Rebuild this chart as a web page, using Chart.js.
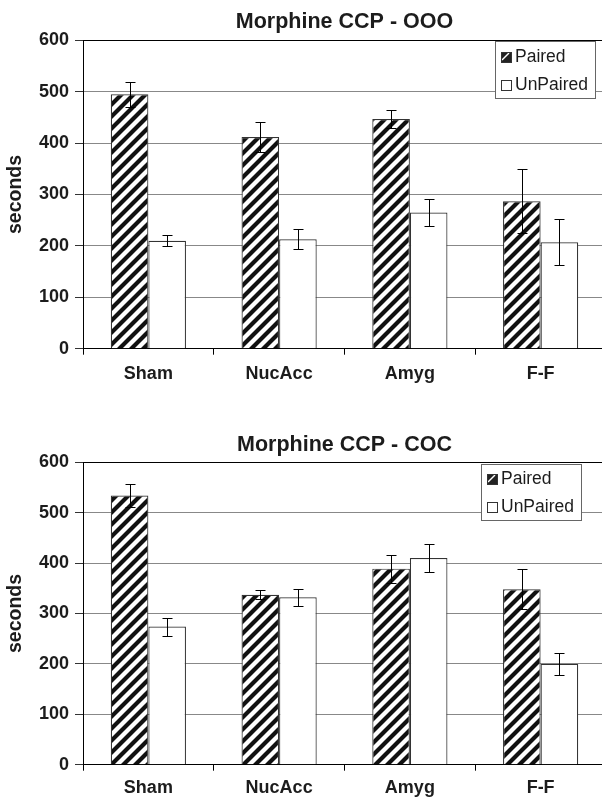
<!DOCTYPE html>
<html>
<head>
<meta charset="utf-8">
<script src="https://cdn.jsdelivr.net/npm/chart.js@4.4.1/dist/chart.umd.min.js"></script>
<style>
    html, body { margin: 0; padding: 0; background: #fff; overflow: hidden; }
    body { position: relative; width: 602px; height: 798px; }
    canvas { position: absolute; left: 0; }
    #chartOOO { top: 0; }
    #chartCOC { top: 420px; }
</style>
</head>
<body>
<canvas id="chartOOO" width="606" height="400"></canvas>
<canvas id="chartCOC" width="606" height="378"></canvas>
<script>
// --- DATA ---
const categories = ['Sham', 'NucAcc', 'Amyg', 'F-F'];
const seriesNames = ['Paired', 'UnPaired'];
const yTicks = [0, 100, 200, 300, 400, 500, 600];

const oooPaired = [495, 412, 447, 287];
const oooPairedErr = [24, 29, 18, 62];
const oooUnpaired = [210, 213, 265, 207];
const oooUnpairedErr = [11, 20, 26, 45];

const cocPaired = [534, 337, 389, 348];
const cocPairedErr = [22, 9, 28, 40];
const cocUnpaired = [274, 332, 410, 200];
const cocUnpairedErr = [18, 17, 28, 22];

const FONT = "'Liberation Sans', Arial, sans-serif";
const TEXT = '#1c1c1c';

// hatched fill for the Paired bars
function makeHatch() {
    const s = 12;
    const c = document.createElement('canvas');
    c.width = s; c.height = s;
    const g = c.getContext('2d');
    g.fillStyle = '#fff';
    g.fillRect(0, 0, s, s);
    g.strokeStyle = '#111';
    g.lineWidth = 4.2;
    g.beginPath();
    g.moveTo(-s / 2, s / 2); g.lineTo(s / 2, -s / 2);
    g.moveTo(0, s); g.lineTo(s, 0);
    g.moveTo(s / 2, s * 1.5); g.lineTo(s * 1.5, s / 2);
    g.stroke();
    return g.createPattern(c, 'repeat');
}
const hatch = makeHatch();

// error bars drawn from the errors stored on each dataset
const errorBars = {
    id: 'errorBars',
    afterDatasetsDraw(chart) {
        const ctx = chart.ctx;
        const y = chart.scales.y;
        ctx.save();
        ctx.strokeStyle = '#000';
        ctx.lineWidth = 1;
        chart.data.datasets.forEach((ds, i) => {
            const meta = chart.getDatasetMeta(i);
            meta.data.forEach((bar, j) => {
                const v = ds.data[j], e = ds.errors[j];
                const top = Math.round(y.getPixelForValue(v + e)) + 0.5;
                const bot = Math.round(y.getPixelForValue(v - e)) + 0.5;
                const x = Math.round(bar.x) + 0.5;
                ctx.beginPath();
                ctx.moveTo(x, top); ctx.lineTo(x, bot);
                ctx.moveTo(x - 5, top); ctx.lineTo(x + 5, top);
                ctx.moveTo(x - 5, bot); ctx.lineTo(x + 5, bot);
                ctx.stroke();
            });
        });
        ctx.restore();
    }
};

// boxed legend sitting inside the plot
const boxLegend = {
    id: 'boxLegend',
    afterDraw(chart, args, opts) {
        const ctx = chart.ctx;
        const { x, y, w, h, rows } = opts;
        ctx.save();
        ctx.fillStyle = '#fff';
        ctx.fillRect(x, y, w, h);
        ctx.strokeStyle = '#666';
        ctx.lineWidth = 1;
        ctx.strokeRect(x + 0.5, y + 0.5, w, h);
        ctx.font = `17.5px ${FONT}`;
        ctx.textBaseline = 'middle';
        chart.data.datasets.forEach((ds, i) => {
            const cy = y + rows[i];
            const sx = x + 6, sy = Math.round(cy - 5.5);
            if (i === 0) {
                ctx.fillStyle = '#222';
                ctx.fillRect(sx, sy, 11, 11);
                ctx.strokeStyle = '#fff';
                ctx.lineWidth = 1.5;
                ctx.beginPath();
                ctx.moveTo(sx + 1, sy + 8); ctx.lineTo(sx + 8, sy + 1);
                ctx.stroke();
            } else {
                ctx.fillStyle = '#fff';
                ctx.fillRect(sx, sy, 11, 11);
            }
            ctx.strokeStyle = '#333';
            ctx.lineWidth = 1;
            ctx.strokeRect(sx + 0.5, sy + 0.5, 10, 10);
            ctx.fillStyle = TEXT;
            ctx.fillText(ds.label, x + 20, cy);
        });
        ctx.restore();
    }
};

function buildChart(id, title, paired, pairedErr, unpaired, unpairedErr, lay) {
    return new Chart(document.getElementById(id), {
        type: 'bar',
        data: {
            labels: categories,
            datasets: [
                { label: seriesNames[0], data: paired, errors: pairedErr, backgroundColor: hatch, borderColor: '#333', borderWidth: 1.2 },
                { label: seriesNames[1], data: unpaired, errors: unpairedErr, backgroundColor: '#fff', borderColor: '#333', borderWidth: 1.2 }
            ]
        },
        options: {
            responsive: false,
            animation: false,
            layout: { padding: 0 },
            datasets: { bar: { barPercentage: 1, categoryPercentage: 0.575 } },
            plugins: {
                legend: { display: false },
                tooltip: { enabled: false },
                title: {
                    display: true,
                    fullSize: false,
                    text: title,
                    color: TEXT,
                    font: { family: FONT, size: 21.5, weight: 'bold' },
                    padding: { top: lay.titleTop, bottom: lay.titleBottom }
                },
                boxLegend: lay.legend
            },
            scales: {
                x: {
                    afterFit: s => { s.height = lay.xHeight; },
                    border: { color: '#000', width: 1 },
                    grid: { drawOnChartArea: false, offset: true, tickLength: 6, tickColor: '#000' },
                    ticks: { color: TEXT, padding: lay.xPad, font: { family: FONT, size: 18, weight: 'bold' } }
                },
                y: {
                    min: 0,
                    max: 600,
                    afterFit: s => { s.width = 83; },
                    afterBuildTicks: s => { s.ticks = yTicks.map(v => ({ value: v })); },
                    border: { color: '#000', width: 1 },
                    grid: {
                        color: c => (c.tick && c.tick.value === 600 ? '#000' : '#888'),
                        tickLength: 8,
                        tickColor: '#333'
                    },
                    ticks: { color: TEXT, padding: 6, font: { family: FONT, size: 18, weight: 'bold' } },
                    title: {
                        display: true,
                        text: 'seconds',
                        color: TEXT,
                        padding: { top: 4, bottom: 0 },
                        font: { family: FONT, size: 19.5, weight: 'bold' }
                    }
                }
            }
        },
        plugins: [errorBars, boxLegend]
    });
}

buildChart('chartOOO', 'Morphine CCP - OOO', oooPaired, oooPairedErr, oooUnpaired, oooUnpairedErr, {
    titleTop: 9, titleBottom: 5.5, xHeight: 51.3, xPad: 9,
    legend: { x: 495, y: 41, w: 100, h: 57, rows: [16, 44] }
});

buildChart('chartCOC', 'Morphine CCP - COC', cocPaired, cocPairedErr, cocUnpaired, cocUnpairedErr, {
    titleTop: 12, titleBottom: 4.5, xHeight: 33.3, xPad: 6.5,
    legend: { x: 481, y: 44, w: 100, h: 56, rows: [15.5, 43] }
});
</script>
</body>
</html>
